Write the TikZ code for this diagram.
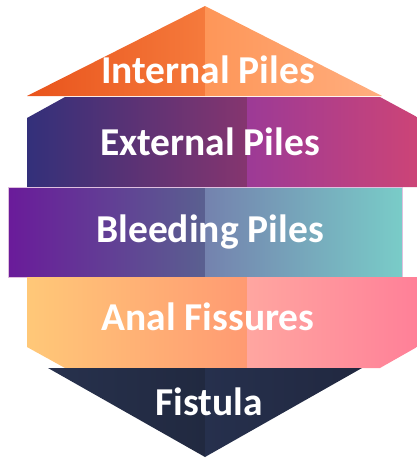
\documentclass[tikz,border=0pt]{standalone}
\usepackage{fontspec}
\setmainfont{Carlito}
\usepackage{xcolor}
\usepackage{tikz}
\usetikzlibrary{positioning}
\definecolor{intA}{RGB}{233, 84, 28}
\definecolor{intB}{RGB}{245, 122, 60}
\definecolor{intC}{RGB}{254, 150, 88}
\definecolor{intD}{RGB}{255, 174, 127}
\definecolor{extA}{RGB}{51, 48, 122}
\definecolor{extB}{RGB}{133, 53, 111}
\definecolor{extC}{RGB}{156, 58, 150}
\definecolor{extD}{RGB}{204, 68, 119}
\definecolor{bleA}{RGB}{106, 27, 154}
\definecolor{bleB}{RGB}{90, 96, 144}
\definecolor{bleC}{RGB}{116, 130, 174}
\definecolor{bleD}{RGB}{121, 204, 200}
\definecolor{anaA}{RGB}{255, 200, 120}
\definecolor{anaB}{RGB}{255, 154, 114}
\definecolor{anaC}{RGB}{255, 166, 160}
\definecolor{anaD}{RGB}{255, 128, 152}
\definecolor{fisA}{RGB}{39, 49, 77}
\definecolor{fisB}{RGB}{33, 41, 64}
\definecolor{fisC}{RGB}{38, 48, 77}
\definecolor{fisD}{RGB}{33, 40, 64}

\begin{document}
\begin{tikzpicture}[
  x=1pt, y=-1pt,
  layertext/.style={text=white, font=\fontsize{39.5}{44}\selectfont\bfseries,
                    inner sep=0pt, anchor=base}
]
\useasboundingbox (0,0) rectangle (417,458);

% top: internal piles
\shade[left color=intA, right color=intB] (205,6) -- (205,96) -- (27,96) -- cycle;
\shade[left color=intC, right color=intD] (205,6) -- (382,96) -- (205,96) -- cycle;

% external piles
\shade[left color=extA, right color=extB] (65,97) -- (247,97) -- (247,187) -- (27,187) -- (27,118) -- cycle;
\shade[left color=extC, right color=extD] (247,97) -- (380,97) -- (417,117) -- (417,187) -- (247,187) -- cycle;

% bleeding piles
\shade[left color=bleA, right color=bleB] (8,187) rectangle (205,277);
\shade[left color=bleC, right color=bleD] (205,187) rectangle (402,277);
\draw[violet!25, line width=0.7pt] (8,187) rectangle (402,277);

% anal fissures
\shade[left color=anaA, right color=anaB] (27,277) -- (247,277) -- (247,368) -- (65,368) -- (27,347) -- cycle;
\shade[left color=anaC, right color=anaD] (247,277) -- (417,277) -- (417,347) -- (380,368) -- (247,368) -- cycle;

% bottom: fistula
\shade[left color=fisA, right color=fisB] (48,368) -- (205,368) -- (205,457) -- cycle;
\shade[left color=fisC, right color=fisD] (205,368) -- (362,368) -- (205,457) -- cycle;

\node[layertext] (internal) at (208,83)  {Internal Piles};
\node[layertext] (external) at (210,155) {External Piles};
\node[layertext] (bleeding) at (210,242) {Bleeding Piles};
\node[layertext] (fissures) at (208,330) {Anal Fissures};
\node[layertext] (fistula)  at (209,415) {Fistula};
\end{tikzpicture}
\end{document}
